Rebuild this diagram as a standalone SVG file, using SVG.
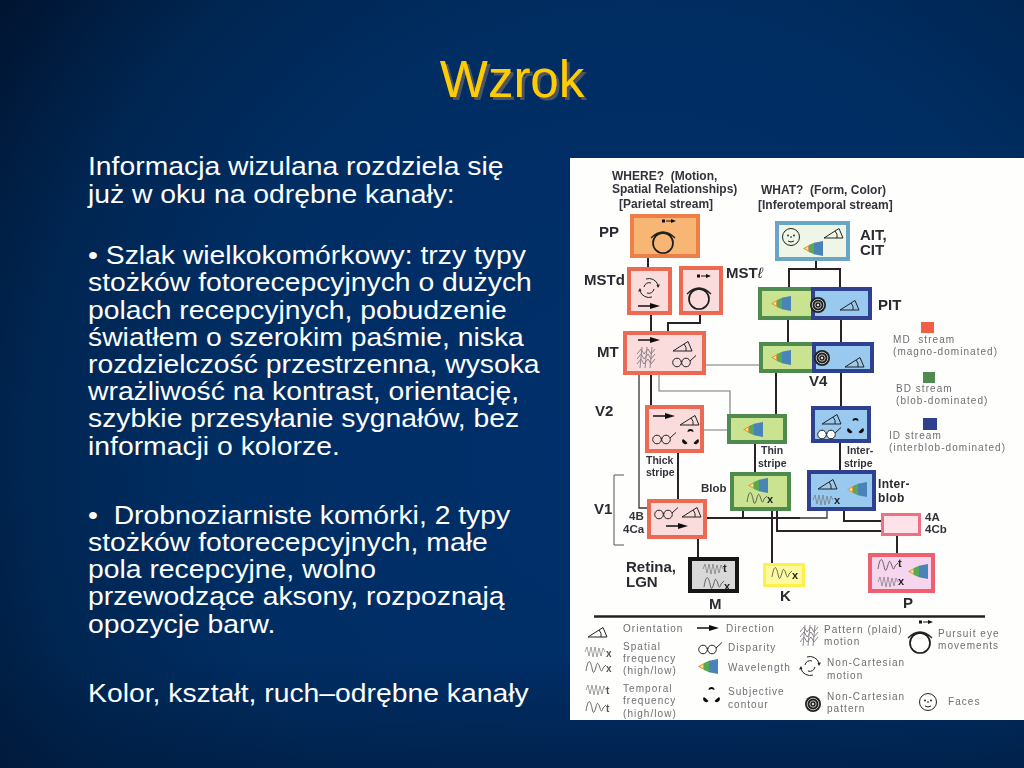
<svg xmlns="http://www.w3.org/2000/svg" width="1024" height="768" viewBox="0 0 1024 768">
<style>
text{font-family:"Liberation Sans",Arial,sans-serif}
.body{font-size:25px;fill:#fff}
.t{font-weight:bold;font-size:12px;fill:#33333b}
.l{font-weight:bold;font-size:15px;fill:#2a2a30}
.s{font-weight:bold;font-size:11.500px;fill:#33333b}
.ss{font-weight:bold;font-size:10.500px;fill:#33333b}
.m{font-weight:bold;font-size:12px;fill:#2a2a30;letter-spacing:.3px}
.g{font-size:10px;fill:#6e6e74;letter-spacing:1.050px}
.x{font-size:11px;font-weight:bold;fill:#222}
.xg{font-size:10px;font-weight:bold;fill:#555}
.n{stroke-width:4}
.red{fill:#fadcdc;stroke:#ec6a52}
.grn{fill:#c9e390;stroke:#4f8a50}
.blu{fill:#99c9ee;stroke:#2f3f8e}
.c{fill:none;stroke:#2b2426;stroke-width:2}
.c1{fill:none;stroke:#3a3436;stroke-width:1.300}
.c2{fill:none;stroke:#777;stroke-width:1.100}
.ic{fill:none;stroke:#222;stroke-width:1}
.wv{fill:none;stroke:#444;stroke-width:.8}
.wh{fill:none;stroke:#666;stroke-width:.6}
</style>
<defs>
<radialGradient id="bg" gradientUnits="userSpaceOnUse" cx="640" cy="450" r="800">
<stop offset="0" stop-color="#002f6c"/><stop offset=".55" stop-color="#002d62"/><stop offset=".76" stop-color="#002652"/><stop offset=".94" stop-color="#001736"/><stop offset="1" stop-color="#00122c"/>
</radialGradient>
<linearGradient id="bot" x1="0" y1="0" x2="0" y2="1"><stop offset="0" stop-color="#001a3c" stop-opacity="0"/><stop offset="1" stop-color="#001a3c" stop-opacity=".55"/></linearGradient>
<filter id="soft" x="-2%" y="-2%" width="104%" height="104%"><feGaussianBlur stdDeviation=".35"/></filter>
<filter id="sh" x="-10%" y="-10%" width="125%" height="130%"><feDropShadow dx="3" dy="3" stdDeviation="0.300" flood-color="#4e5560"/></filter>
<g id="ori"><path class="ic" d="M0 10 L15 .5 L19 10 H0 M11 3 Q14 6 13 10"/></g>
<g id="arr"><path d="M0 3H14" stroke="#111" stroke-width="1.500"/><path d="M12 0L22 3L12 6Z" fill="#111"/></g>
<g id="gls"><circle class="ic" cx="5" cy="7.500" r="4.300"/><circle class="ic" cx="14" cy="7.500" r="4.300"/><path class="ic" d="M9 6.500Q9.500 5.500 10 6.500M18 6 L24 .5"/></g>
<g id="gw"><circle cx="5" cy="7.500" r="4.300" fill="#fff" stroke="#222"/><circle cx="14" cy="7.500" r="4.300" fill="#fff" stroke="#222"/><path class="ic" d="M9 6.500Q9.500 5.500 10 6.500M18 6 L24 .5"/></g>
<g id="cone"><path d="M0 7.500L6 4V11Z" fill="#d94"/><path d="M2 7.500L5 5.700V9.300Z" fill="#ffe97a"/><path d="M6 4L11 1.800V13.200L6 11Z" fill="#58a957"/><path d="M11 1.800L20 0V15L11 13.200Z" fill="#4a83b8"/></g>
<g id="sub"><path d="M5.500 3A3 3 0 0 1 11.500 3L8.500 2Z" fill="#111"/><path d="M1 10A3 3 0 0 0 5.500 14L3 11.500Z" fill="#111"/><path d="M16 10A3 3 0 0 1 11.500 14L14 11.500Z" fill="#111"/></g>
<g id="tgt"><circle r="8" fill="#222"/><circle r="5.800" fill="none" stroke="#ddd" stroke-width=".8"/><circle r="3.200" fill="none" stroke="#ddd" stroke-width=".8"/><circle r="1.200" fill="#ddd"/></g>
<g id="low"><path class="wv" d="M0 9C2 -3 4 -3 6 6C7 12 8 12 10 5C11 0 12 0 14 6C15 10 16 10 17 6L20 3"/></g>
<g id="hi"><path class="wh" d="M0 6L2 1L4 10L6 1L8 11L10 1L12 11L14 2L16 10L18 2L20 6"/></g>
<g id="pla"><path d="M0 7L4 2L7 7L11 2L14 7L18 2M0 12L4 7L7 12L11 7L14 12L18 7M0 17L4 12L7 17L11 12L14 17L18 12M3 21L5 0M8 21L10 0M13 21L15 0" fill="none" stroke="#8d8590" stroke-width="1"/></g>
<g id="swl"><path class="ic" d="M-3 -9A9.500 9.500 0 0 1 9 -3M3 9A9.500 9.500 0 0 1 -9 3"/><path class="ic" d="M-5 -1A5.200 5.200 0 0 1 2 -5M5 1A5.200 5.200 0 0 1 -2 5"/><path d="M7.500 -3L11 -3.500L9 0Z M-7.500 3L-11 3.500L-9 0Z" fill="#222"/></g>
<g id="eye"><circle r="10" fill="none" stroke="#1c1c1c" stroke-width="1.700"/><path fill="none" stroke="#222" stroke-width="1.300" d="M-12 -5Q0 -17 12 -5M-9 -7Q0 -13 9 -7"/></g>
<g id="eya"><rect x="0" y="-1.500" width="3" height="3" fill="#111"/><path d="M4 0H10" stroke="#111"/><path d="M9 -2L14 0L9 2Z" fill="#111"/></g>
<g id="fac"><circle r="8.500" class="ic"/><circle cx="-3" cy="-1.500" r=".9" fill="#222"/><circle cx="3" cy="-1.500" r=".9" fill="#222"/><path class="ic" d="M0 -1V1M-3 4Q0 6 3 4"/></g>
</defs>
<rect id="background" width="1024" height="768" fill="url(#bg)"/>
<rect y="660" width="1024" height="108" fill="url(#bot)"/>
<text id="title" x="512" y="97" font-size="51" text-anchor="middle" fill="#ffcc00" filter="url(#sh)">Wzrok</text>
<g id="body-text" transform="translate(88 0) scale(1.133 1)">
<text class="body" x="0" y="175">Informacja wizulana rozdziela się</text>
<text class="body" x="0" y="203">już w oku na odrębne kanały:</text>
<text class="body" x="0" y="264">• Szlak wielkokomórkowy: trzy typy</text>
<text class="body" x="0" y="291">stożków fotorecepcyjnych o dużych</text>
<text class="body" x="0" y="319">polach recepcyjnych, pobudzenie</text>
<text class="body" x="0" y="346">światłem o szerokim paśmie, niska</text>
<text class="body" x="0" y="373">rozdzielczość przestrzenna, wysoka</text>
<text class="body" x="0" y="400">wrażliwość na kontrast, orientację,</text>
<text class="body" x="0" y="427">szybkie przesyłanie sygnałów, bez</text>
<text class="body" x="0" y="455">informacji o kolorze.</text>
<text class="body" x="0" y="524">•&#160; Drobnoziarniste komórki, 2 typy</text>
<text class="body" x="0" y="551">stożków fotorecepcyjnych, małe</text>
<text class="body" x="0" y="578">pola recepcyjne, wolno</text>
<text class="body" x="0" y="605">przewodzące aksony, rozpoznają</text>
<text class="body" x="0" y="633">opozycje barw.</text>
<text class="body" x="0" y="702">Kolor, kształt, ruch–odrębne kanały</text>
</g>
<rect id="panel" x="570" y="158" width="454" height="562" fill="#fefefc"/>
<g filter="url(#soft)">
<g id="connectors">
<path class="c" d="M648 257V267M651 315V331M700 315V323H668V331M816 261V269M789 287V269H840V287M788 320V342M841 320V342M776 373V414M841 373V406M651 375V405M678 453V499M755 444V472M840 443V470M743 511V518M707 518H800M772 511V563M777 511V531H881M844 511V521H881M897 536V553M698 539V557"/>
<path class="c1" d="M639 375V508H647M800 518H827V511"/>
<path class="c2" d="M706 365H759M659 375V391H730V414M704 430H727"/>
<path d="M624 475H614V545H624" fill="none" stroke="#555" stroke-width="1"/>
<path d="M594 616.500H985" stroke="#222" stroke-width="2.500"/>
</g>
<g id="n-pp"><rect class="n" x="632" y="216" width="66" height="40" fill="#f7b673" stroke="#ee7f4a"/><use href="#eye" x="663" y="243"/><use href="#eya" x="662" y="221"/><text class="l" x="599" y="237">PP</text></g>
<g id="n-mstd"><rect class="n red" x="629" y="269" width="41" height="44"/><use href="#swl" x="649" y="288"/><use href="#arr" x="638" y="303"/><text class="l" x="584" y="285">MSTd</text></g>
<g id="n-mstl"><rect class="n red" x="681" y="268" width="40" height="45"/><use href="#eye" x="699" y="299"/><use href="#eya" x="697" y="276"/><text class="l" x="726" y="278">MST<tspan font-style="italic" font-weight="normal">ℓ</tspan></text></g>
<g id="n-mt"><rect class="n red" x="625" y="333" width="79" height="40"/><use href="#arr" x="638" y="337"/><use href="#pla" x="637" y="347"/><use href="#ori" x="673" y="341"/><use href="#gls" x="672" y="355"/><text class="l" x="597" y="357">MT</text></g>
<g id="n-thick"><rect class="n red" x="647" y="407" width="55" height="44"/><use href="#arr" x="653" y="413"/><use href="#ori" x="680" y="415"/><use href="#gls" x="652" y="432"/><use href="#sub" x="682" y="429"/><text class="l" x="595" y="416">V2</text><text class="ss" x="646" y="464">Thick</text><text class="ss" x="646" y="476">stripe</text></g>
<g id="n-thin"><rect class="n grn" x="729" y="416" width="56" height="26"/><use href="#cone" x="743" y="422"/><text class="ss" x="761" y="454">Thin</text><text class="ss" x="758" y="467">stripe</text></g>
<g id="n-blob"><rect class="n grn" x="732" y="474" width="57" height="35"/><use href="#cone" x="748" y="478"/><use href="#low" x="747" y="493"/><text class="x" x="767" y="503">x</text><text class="s" x="701" y="492">Blob</text></g>
<g id="n-v1"><rect class="n red" x="649" y="501" width="56" height="36"/><use href="#gls" x="654" y="507"/><use href="#ori" x="682" y="507"/><use href="#arr" x="666" y="523"/><text class="l" x="594" y="514">V1</text><text class="s" x="629" y="520">4B</text><text class="s" x="623" y="533">4Ca</text></g>
<g id="n-m"><rect x="690" y="559" width="47" height="32" fill="#d8d8d8" stroke="#151515" stroke-width="4"/><use href="#hi" x="703" y="563"/><text class="x" x="723" y="572">t</text><use href="#low" x="704" y="578"/><text class="x" x="724" y="590">x</text><text class="l" x="709" y="609">M</text><text class="l" x="626" y="572">Retina,</text><text class="l" x="626" y="587">LGN</text></g>
<g id="n-k"><rect x="764.500" y="564.500" width="39" height="21" fill="#fffaa0" stroke="#fff050" stroke-width="3"/><use href="#low" x="772" y="568"/><text class="x" x="792" y="579">x</text><text class="l" x="780" y="601">K</text></g>
<g id="n-p"><rect class="n" x="870" y="555" width="63" height="36" fill="#f6d6ee" stroke="#ee5f70"/><use href="#low" x="878" y="560"/><text class="x" x="898" y="567">t</text><use href="#hi" x="878" y="576"/><text class="x" x="898" y="585">x</text><use href="#cone" x="908" y="564"/><text class="l" x="903" y="608">P</text></g>
<g id="n-4a"><rect x="882.500" y="514.500" width="37" height="20" fill="#fde2ea" stroke="#ef6f80" stroke-width="3"/><text class="s" x="925" y="521">4A</text><text class="s" x="925" y="533">4Cb</text></g>
<g id="n-interblob"><rect class="n blu" x="809" y="472" width="65" height="37"/><use href="#ori" x="818" y="479"/><use href="#hi" x="813" y="494"/><text class="x" x="834" y="504">x</text><use href="#cone" x="847" y="482"/><text class="m" x="878" y="488">Inter-</text><text class="m" x="878" y="502">blob</text></g>
<g id="n-interstripe"><rect class="n blu" x="813" y="408" width="56" height="33"/><use href="#ori" x="822" y="414"/><use href="#gw" x="817" y="427"/><use href="#sub" x="847" y="418"/><text class="ss" x="847" y="454">Inter-</text><text class="ss" x="844" y="467">stripe</text></g>
<g id="n-v4"><rect x="761" y="344" width="55" height="27" fill="#c9e390" stroke="#4f8a50" stroke-width="4"/><rect x="814" y="344" width="58" height="27" fill="#99c9ee" stroke="#2f3f8e" stroke-width="4"/><use href="#cone" x="771" y="350"/><use href="#tgt" x="822" y="358"/><use href="#ori" x="845" y="357"/><text class="l" x="809" y="386">V4</text></g>
<g id="n-pit"><rect x="760" y="289" width="55" height="29" fill="#c9e390" stroke="#4f8a50" stroke-width="4"/><rect x="813" y="289" width="57" height="29" fill="#99c9ee" stroke="#2f3f8e" stroke-width="4"/><use href="#cone" x="771" y="296"/><use href="#tgt" x="818" y="305"/><use href="#ori" x="840" y="300"/><text class="l" x="878" y="310">PIT</text></g>
<g id="n-ait"><rect class="n" x="777" y="223" width="71" height="36" fill="#eff6e8" stroke="#6aa5c6"/><use href="#fac" x="791" y="237"/><use href="#ori" x="824" y="228"/><use href="#cone" x="803" y="241"/><text class="l" x="860" y="240">AIT,</text><text class="l" x="860" y="255">CIT</text></g>
<g id="headings"><text class="t" x="612" y="180">WHERE?&#160; (Motion,</text><text class="t" x="612" y="193">Spatial Relationships)</text><text class="t" x="619" y="208">[Parietal stream]</text><text class="t" x="761" y="194">WHAT?&#160; (Form, Color)</text><text class="t" x="758" y="209">[Inferotemporal stream]</text></g>
<g id="stream-key">
<rect x="921" y="322" width="13" height="11" fill="#ee5f48"/><text class="g" x="893" y="343">MD&#160; stream</text><text class="g" x="893" y="355">(magno-dominated)</text>
<rect x="923" y="372" width="12" height="11" fill="#4f8a50"/><text class="g" x="896" y="392">BD stream</text><text class="g" x="896" y="404">(blob-dominated)</text>
<rect x="923" y="418" width="14" height="12" fill="#2f3f8e"/><text class="g" x="889" y="439">ID stream</text><text class="g" x="889" y="451">(interblob-dominated)</text>
</g>
<g id="legend">
<use href="#ori" x="588" y="627"/><text class="g" x="623" y="632">Orientation</text>
<use href="#arr" x="697" y="625"/><text class="g" x="726" y="632">Direction</text>
<use href="#hi" x="585" y="646"/><text class="xg" x="606" y="657">x</text>
<use href="#low" x="586" y="662"/><text class="xg" x="606" y="672">x</text>
<text class="g" x="623" y="650">Spatial</text><text class="g" x="623" y="662">frequency</text><text class="g" x="623" y="674">(high/low)</text>
<use href="#gls" x="698" y="642"/><text class="g" x="728" y="651">Disparity</text>
<use href="#cone" x="698" y="659"/><text class="g" x="728" y="671">Wavelength</text>
<use href="#hi" x="586" y="684"/><text class="xg" x="606" y="694">t</text>
<use href="#low" x="586" y="702"/><text class="xg" x="606" y="712">t</text>
<text class="g" x="623" y="692">Temporal</text><text class="g" x="623" y="704">frequency</text><text class="g" x="623" y="717">(high/low)</text>
<use href="#sub" x="703" y="687"/><text class="g" x="728" y="695">Subjective</text><text class="g" x="728" y="708">contour</text>
<use href="#pla" x="800" y="625"/><text class="g" x="824" y="633">Pattern (plaid)</text><text class="g" x="824" y="645">motion</text>
<use href="#swl" x="810" y="666"/><text class="g" x="827" y="666">Non-Cartesian</text><text class="g" x="827" y="679">motion</text>
<use href="#tgt" x="813" y="704"/><text class="g" x="827" y="700">Non-Cartesian</text><text class="g" x="827" y="712">pattern</text>
<use href="#eye" x="920" y="643"/><use href="#eya" x="919" y="622"/><text class="g" x="938" y="637">Pursuit eye</text><text class="g" x="938" y="649">movements</text>
<use href="#fac" x="928" y="702"/><text class="g" x="948" y="705">Faces</text>
</g>
</g>
</svg>
